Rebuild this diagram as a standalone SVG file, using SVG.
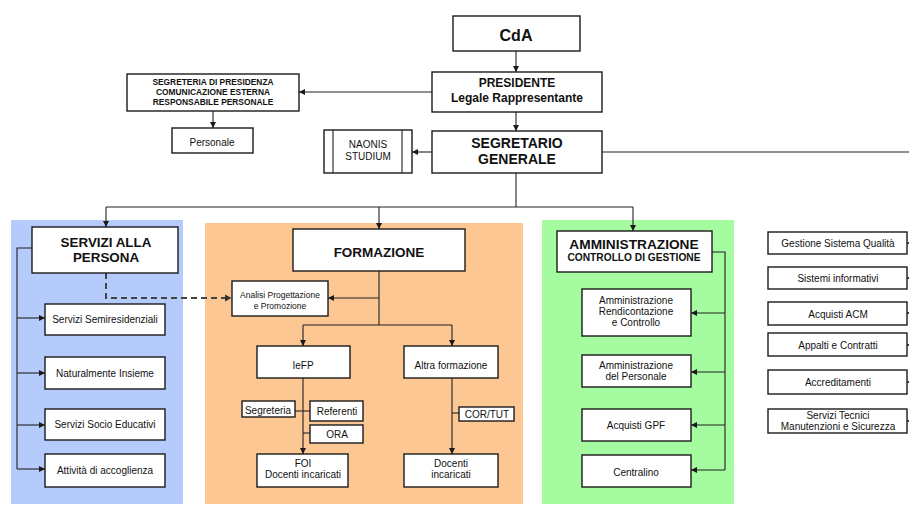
<svg xmlns="http://www.w3.org/2000/svg" width="909" height="506" viewBox="0 0 909 506">
<defs>
<marker id="ah" viewBox="0 0 8 8" refX="8" refY="4" markerWidth="6" markerHeight="6" markerUnits="userSpaceOnUse" orient="auto">
<path d="M0,0 L8,4 L0,8 z" fill="#1a1a1a"/>
</marker>
</defs>
<style>
.box{fill:#fff;stroke:#1a1a1a;stroke-width:1.4}
.t{font-family:"Liberation Sans",Arial,sans-serif;fill:#111;text-anchor:middle}
.b{font-weight:bold}
.s10{font-size:10px}
.c{fill:none;stroke:#222;stroke-width:1.1}
.ca{fill:none;stroke:#222;stroke-width:1.1;marker-end:url(#ah)}
.d{fill:none;stroke:#444;stroke-width:2;stroke-dasharray:6 4}
</style>
<rect x="11" y="220" width="172" height="284" fill="#b4cbfc"/>
<rect x="205" y="223" width="318" height="281" fill="#fdc794"/>
<rect x="542" y="220" width="192" height="284" fill="#a5fba0"/>
<g id="connectors">
<path class="ca" d="M516,51 V72"/>
<path class="ca" d="M516,112 V131"/>
<path class="ca" d="M432,92 H299"/>
<path class="ca" d="M213,111 V128"/>
<path class="ca" d="M432,152 H412"/>
<path class="c" d="M602,152 H909"/>
<path class="c" d="M516,173 V207"/>
<path class="c" d="M106,207 H633"/>
<path class="ca" d="M106,207 V227"/>
<path class="ca" d="M379,207 V229"/>
<path class="ca" d="M633,207 V231"/>
<path class="c" d="M32,248 H17 V469"/>
<path class="ca" d="M17,318 H45"/>
<path class="ca" d="M17,373 H45"/>
<path class="ca" d="M17,425 H45"/>
<path class="ca" d="M17,469 H45"/>
<path class="d" d="M106,273 V298 H226"/>
<path d="M225,294.5 L231.5,298 L225,301.5 z" fill="#333"/>
<path class="c" d="M379,271 V325"/>
<path class="ca" d="M379,298 H328"/>
<path class="c" d="M303,325 H452"/>
<path class="ca" d="M303,325 V346"/>
<path class="ca" d="M452,325 V346"/>
<path class="ca" d="M303,378 V454"/>
<path class="c" d="M295,411 H310"/>
<path class="c" d="M303,433 H310"/>
<path class="ca" d="M452,378 V454"/>
<path class="c" d="M452,413 H459"/>
<path class="c" d="M712,252 H725 V470"/>
<path class="ca" d="M725,313 H691"/>
<path class="ca" d="M725,372 H691"/>
<path class="ca" d="M725,425 H691"/>
<path class="ca" d="M725,470 H691"/>
<path class="ca" d="M920,243 H907"/>
<path class="ca" d="M920,278 H907"/>
<path class="ca" d="M920,313 H907"/>
<path class="ca" d="M920,345 H907"/>
<path class="ca" d="M920,382 H907"/>
<path class="ca" d="M920,421 H907"/>
</g>
<g id="cda"><rect class="box" x="453" y="16" width="127" height="35"/><text class="t b" x="516" y="41" font-size="16">CdA</text></g>
<g id="presidente"><rect class="box" x="432" y="72" width="170" height="40"/><text class="t b" x="517" y="87" font-size="12">PRESIDENTE</text><text class="t b" x="517" y="102" font-size="12">Legale Rappresentante</text></g>
<g id="segreteria"><rect class="box" x="127" y="74" width="172" height="37"/><text class="t b" x="213" y="85" font-size="8.4">SEGRETERIA DI PRESIDENZA</text><text class="t b" x="213" y="95" font-size="8.4">COMUNICAZIONE ESTERNA</text><text class="t b" x="213" y="105" font-size="8.4">RESPONSABILE PERSONALE</text></g>
<g id="personale"><rect class="box" x="172" y="128" width="81" height="25"/><text class="t s10" x="212" y="146">Personale</text></g>
<g id="naonis"><rect class="box" x="324" y="130" width="88" height="43"/><path class="c" d="M333,130 V173 M402,130 V173"/><text class="t s10" x="368" y="148">NAONIS</text><text class="t s10" x="368" y="160">STUDIUM</text></g>
<g id="segretario"><rect class="box" x="432" y="131" width="170" height="42"/><text class="t b" x="517" y="148" font-size="14">SEGRETARIO</text><text class="t b" x="517" y="164" font-size="14">GENERALE</text></g>
<g id="servizi"><rect class="box" x="32" y="227" width="146" height="46"/><text class="t b" x="106" y="247" font-size="13.4">SERVIZI ALLA</text><text class="t b" x="106" y="262" font-size="13.4">PERSONA</text></g>
<g id="semiresidenziali"><rect class="box" x="45" y="304" width="120" height="31"/><text class="t s10" x="105" y="323">Servizi Semiresidenziali</text></g>
<g id="naturalmente"><rect class="box" x="45" y="357" width="120" height="32"/><text class="t s10" x="105" y="377">Naturalmente Insieme</text></g>
<g id="socio"><rect class="box" x="45" y="409" width="120" height="31"/><text class="t s10" x="105" y="428">Servizi Socio Educativi</text></g>
<g id="accoglienza"><rect class="box" x="45" y="454" width="120" height="33"/><text class="t s10" x="105" y="474">Attività di accoglienza</text></g>
<g id="formazione"><rect class="box" x="293" y="229" width="172" height="42"/><text class="t b" x="379" y="257" font-size="13.5">FORMAZIONE</text></g>
<g id="analisi"><rect class="box" x="232" y="281" width="96" height="35"/><text class="t" x="280" y="297.5" font-size="8.5">Analisi Progettazione</text><text class="t" x="280" y="308.5" font-size="8.5">e Promozione</text></g>
<g id="iefp"><rect class="box" x="257" y="346" width="93" height="32"/><text class="t s10" x="303" y="369">IeFP</text></g>
<g id="altra"><rect class="box" x="404" y="346" width="94" height="32"/><text class="t s10" x="451" y="369">Altra formazione</text></g>
<g id="segreteria2"><rect class="box" x="242" y="401" width="53" height="16"/><text class="t s10" x="268" y="413.5">Segreteria</text></g>
<g id="referenti"><rect class="box" x="310" y="401" width="53" height="20"/><text class="t s10" x="337" y="414.5">Referenti</text></g>
<g id="ora"><rect class="box" x="310" y="425" width="53" height="18"/><text class="t s10" x="337" y="438">ORA</text></g>
<g id="cortut"><rect class="box" x="459" y="407" width="55" height="14"/><text class="t s10" x="487" y="418">COR/TUT</text></g>
<g id="foi"><rect class="box" x="257" y="454" width="91" height="33"/><text class="t s10" x="303" y="467">FOI</text><text class="t s10" x="303" y="478">Docenti incaricati</text></g>
<g id="docenti"><rect class="box" x="404" y="454" width="94" height="33"/><text class="t s10" x="451" y="467">Docenti</text><text class="t s10" x="451" y="478">incaricati</text></g>
<g id="amministrazione"><rect class="box" x="557" y="231" width="155" height="41"/><text class="t b" x="634" y="249" font-size="13.7">AMMINISTRAZIONE</text><text class="t b" x="634" y="261" font-size="10.2">CONTROLLO DI GESTIONE</text></g>
<g id="rendicontazione"><rect class="box" x="582" y="289" width="109" height="47"/><text class="t s10" x="636" y="303.5">Amministrazione</text><text class="t s10" x="636" y="314.5">Rendicontazione</text><text class="t s10" x="636" y="325.5">e Controllo</text></g>
<g id="ammpersonale"><rect class="box" x="582" y="355" width="109" height="32"/><text class="t s10" x="636" y="368.5">Amministrazione</text><text class="t s10" x="636" y="379.5">del Personale</text></g>
<g id="gpf"><rect class="box" x="582" y="409" width="109" height="32"/><text class="t s10" x="636" y="429">Acquisti GPF</text></g>
<g id="centralino"><rect class="box" x="582" y="455" width="109" height="32"/><text class="t s10" x="636" y="476">Centralino</text></g>
<g id="qualita"><rect class="box" x="768" y="232" width="139" height="22"/><text class="t s10" x="838" y="246.5">Gestione Sistema Qualità</text></g>
<g id="informativi"><rect class="box" x="768" y="267" width="139" height="22"/><text class="t s10" x="838" y="281.5">Sistemi informativi</text></g>
<g id="acm"><rect class="box" x="768" y="302" width="139" height="23"/><text class="t s10" x="838" y="317.5">Acquisti ACM</text></g>
<g id="appalti"><rect class="box" x="768" y="333" width="139" height="23"/><text class="t s10" x="838" y="349">Appalti e Contratti</text></g>
<g id="accreditamenti"><rect class="box" x="768" y="370" width="139" height="24"/><text class="t s10" x="838" y="386">Accreditamenti</text></g>
<g id="tecnici"><rect class="box" x="768" y="409" width="139" height="24"/><text class="t s10" x="838" y="419">Servizi Tecnici</text><text class="t s10" x="838" y="429.5">Manutenzioni e Sicurezza</text></g>
</svg>
